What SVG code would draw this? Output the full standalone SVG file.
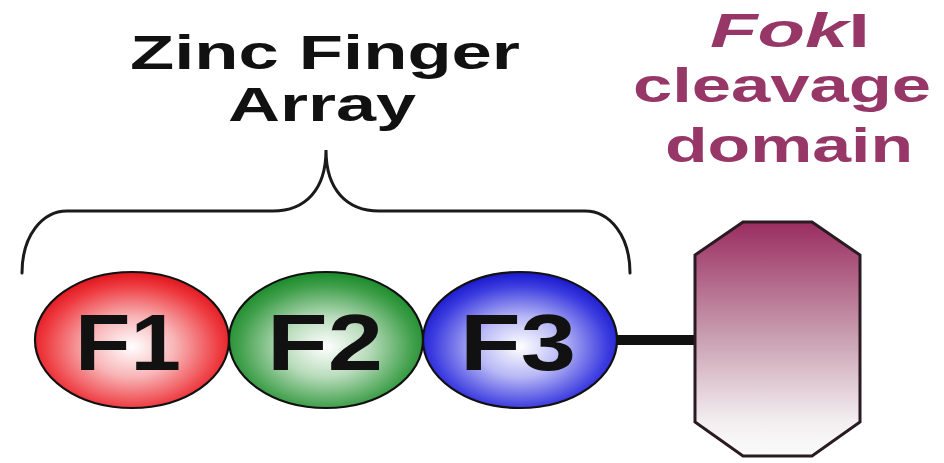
<svg xmlns="http://www.w3.org/2000/svg" width="944" height="463" viewBox="0 0 944 463">
  <style>
    .lbl { font-family: "Liberation Sans", Arial, sans-serif; font-weight: bold; text-anchor: middle; }
    .blk { fill: #111111; }
    .fok { fill: #973767; }
    .fin { stroke: #111111; stroke-width: 2.2; }
    .brace { fill: none; stroke: #1a1a1a; stroke-width: 3; stroke-linecap: round; }
  </style>
  <defs>
    <radialGradient id="gRed" cx="0.5" cy="0.55" r="0.55">
      <stop offset="0" stop-color="#ffffff"/>
      <stop offset="0.4" stop-color="#f8b5b7"/>
      <stop offset="0.82" stop-color="#ee3c41"/>
      <stop offset="1" stop-color="#df151c"/>
    </radialGradient>
    <radialGradient id="gGreen" cx="0.5" cy="0.55" r="0.55">
      <stop offset="0" stop-color="#ffffff"/>
      <stop offset="0.4" stop-color="#b9dcbc"/>
      <stop offset="0.82" stop-color="#3f9f4a"/>
      <stop offset="1" stop-color="#1a8a2a"/>
    </radialGradient>
    <radialGradient id="gBlue" cx="0.5" cy="0.55" r="0.55">
      <stop offset="0" stop-color="#ffffff"/>
      <stop offset="0.4" stop-color="#b8b8f6"/>
      <stop offset="0.82" stop-color="#3c3ce0"/>
      <stop offset="1" stop-color="#1818cc"/>
    </radialGradient>
    <linearGradient id="gFok" x1="0" y1="0" x2="0" y2="1">
      <stop offset="0" stop-color="#9a2d60"/>
      <stop offset="0.5" stop-color="#caa1b2"/>
      <stop offset="0.85" stop-color="#f2eef0"/>
      <stop offset="1" stop-color="#fbfbfb"/>
    </linearGradient>
  </defs>

  <g id="connectors">
    <line x1="612" y1="340" x2="698" y2="340" stroke="#111111" stroke-width="10"/>
  </g>

  <g id="zinc-finger-array-label">
    <text class="lbl blk" x="325" y="69" font-size="48" textLength="390" lengthAdjust="spacingAndGlyphs">Zinc Finger</text>
    <text class="lbl blk" x="322" y="121" font-size="48" textLength="188" lengthAdjust="spacingAndGlyphs">Array</text>
  </g>

  <g id="brace">
    <path class="brace" d="M22,273 C22,236 42,211 67,211 L273,211 C305,211 326,190 326,150 C326,190 347,211 379,211 L585,211 C610,211 630,236 630,273"/>
  </g>

  <g id="fokI-label">
    <text class="lbl fok" x="790" y="47" font-size="49" textLength="160" lengthAdjust="spacingAndGlyphs"><tspan font-style="italic">Fok</tspan>I</text>
    <text class="lbl fok" x="782" y="102" font-size="49" textLength="298" lengthAdjust="spacingAndGlyphs">cleavage</text>
    <text class="lbl fok" x="789" y="162" font-size="49" textLength="248" lengthAdjust="spacingAndGlyphs">domain</text>
  </g>

  <g id="F1">
    <ellipse class="fin" cx="132" cy="340" rx="97" ry="68" fill="url(#gRed)"/>
    <text class="lbl blk" x="128" y="370" font-size="79" textLength="106" lengthAdjust="spacingAndGlyphs">F1</text>
  </g>
  <g id="F2">
    <ellipse class="fin" cx="326" cy="340" rx="97" ry="68" fill="url(#gGreen)"/>
    <text class="lbl blk" x="325" y="370" font-size="79" textLength="116" lengthAdjust="spacingAndGlyphs">F2</text>
  </g>
  <g id="F3">
    <ellipse class="fin" cx="520" cy="340" rx="97" ry="68" fill="url(#gBlue)"/>
    <text class="lbl blk" x="518" y="370" font-size="79" textLength="116" lengthAdjust="spacingAndGlyphs">F3</text>
  </g>

  <g id="fokI-domain">
    <polygon points="743,222 812,222 860,255 860,422 812,456 743,456 695,422 695,255" fill="url(#gFok)" stroke="#2a1a22" stroke-width="3" stroke-linejoin="miter"/>
  </g>
</svg>
